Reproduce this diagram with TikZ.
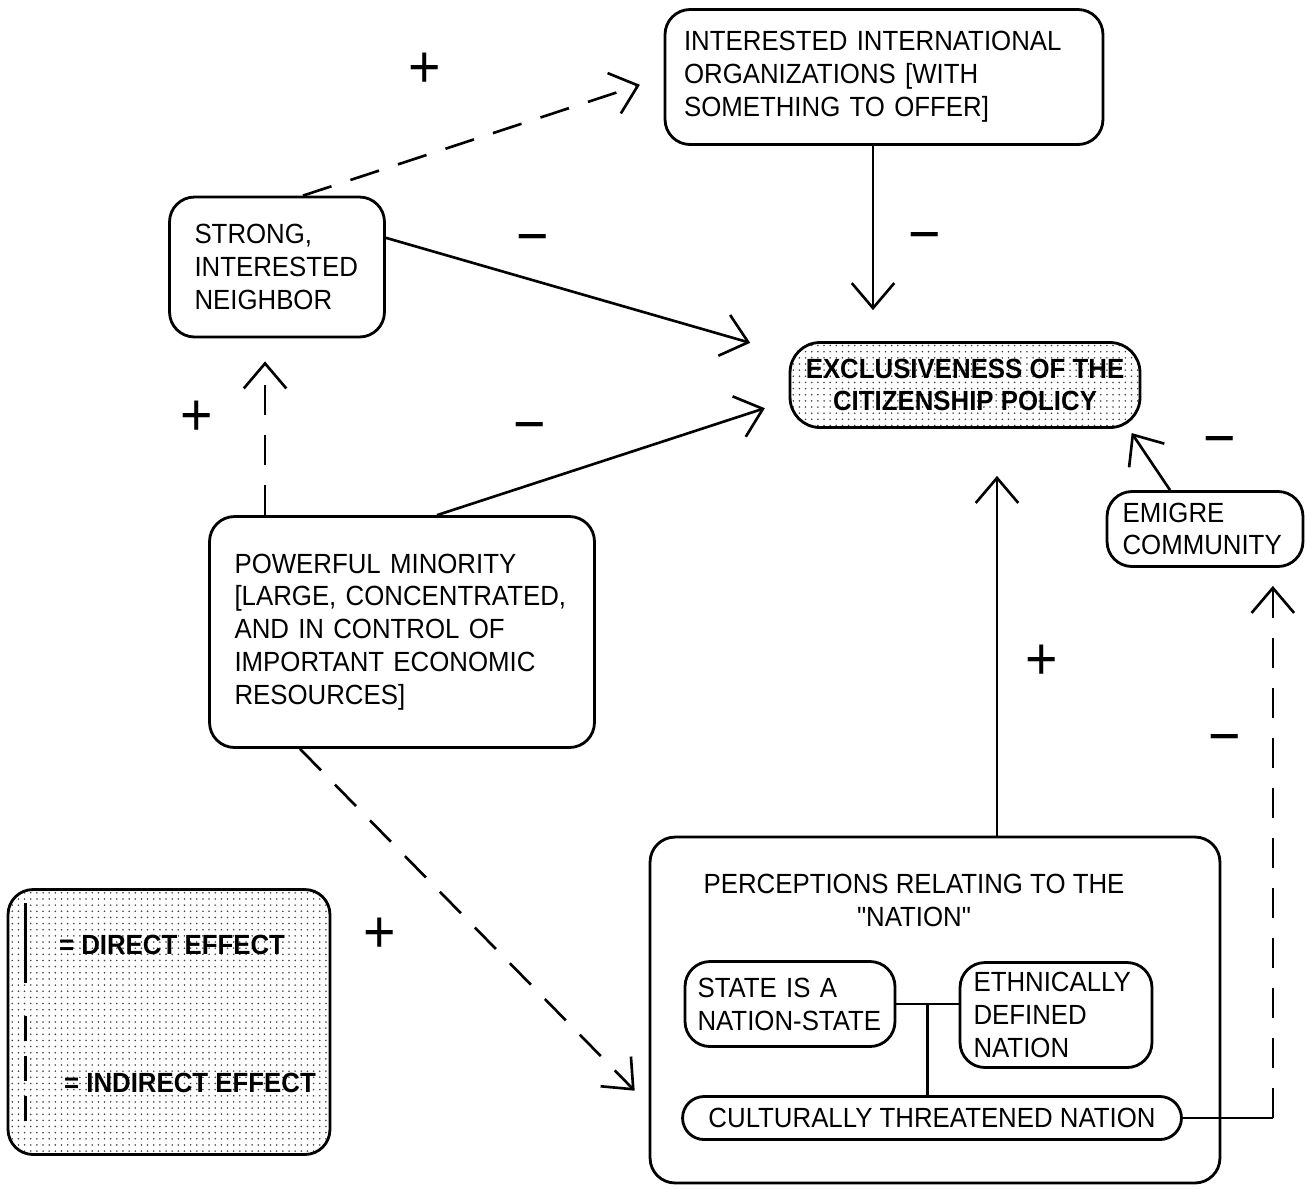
\documentclass[tikz,border=0pt]{standalone}
\usepackage{fontspec}
\setmainfont{Liberation Sans}[FakeStretch=0.93, Ligatures=TeXOff]
\usetikzlibrary{arrows.meta,calc,patterns.meta}

\newcommand{\boxfont}{\fontsize{15.8}{18.7}\selectfont\hyphenpenalty=10000}
\newcommand{\signfont}{\fontsize{34}{34}\selectfont}

\tikzset{
  box/.style={draw, line width=1.6pt, rounded corners=0.5cm, align=left, font=\boxfont},
  hatched/.style={pattern={Dots[distance=3.5pt,radius=0.5pt]}, pattern color=black!75},
  direct/.style={line width=1.5pt, -{Straight Barb[length=0.5cm,width=0.85cm]}},
  indirect/.style={direct, dash pattern=on 0.6cm off 0.4cm},
  sign/.style={font=\signfont, inner sep=0pt},
}

\begin{document}
\begin{tikzpicture}[x=0.02cm,y=-0.02cm]
      \useasboundingbox (0,0) rectangle (1307,1188);
      \node[box, text width=8cm, inner xsep=0.38cm, minimum height=2.7cm] (iio) at (884,77)
        {INTERESTED INTERNATIONAL\\ORGANIZATIONS [WITH\\SOMETHING TO OFFER]};
      \node[box, text width=3.3cm, inner xsep=0.5cm, minimum height=2.8cm] (nbr) at (277,267)
        {STRONG,\\INTERESTED\\NEIGHBOR};
      \node[box, hatched, align=center, minimum width=7cm, minimum height=1.7cm,
        rounded corners=0.6cm, font=\boxfont\bfseries] (excl) at (965,385)
        {EXCLUSIVENESS OF THE\\CITIZENSHIP POLICY};
      \node[box, text width=3.3cm, inner xsep=0.31cm, minimum height=1.5cm] (emi) at (1205,529)
        {EMIGRE\\COMMUNITY};
      \node[box, text width=6.7cm, inner xsep=0.5cm, minimum height=4.62cm] (min) at (402,632)
        {POWERFUL MINORITY\\{[}LARGE, CONCENTRATED,\\AND IN CONTROL OF\\IMPORTANT ECONOMIC\\RESOURCES]};
      \node[box, minimum width=11.4cm, minimum height=6.92cm] (per) at (935,1010) {};
      \node[align=center, font=\boxfont] (pertitle) at (914,900)
        {PERCEPTIONS RELATING TO THE\\"NATION"};
      \node[box, text width=3.7cm, inner xsep=0.25cm, minimum height=1.7cm] (sta) at (790,1004)
        {STATE IS A\\NATION-STATE};
      \node[box, text width=3.3cm, inner xsep=0.27cm, minimum height=2.1cm] (eth) at (1056,1015)
        {ETHNICALLY\\DEFINED\\NATION};
      \node[box, align=center, minimum width=9.98cm, minimum height=0.86cm,
        rounded corners=0.43cm, inner ysep=1pt] (cul) at (932,1118)
        {CULTURALLY THREATENED NATION};
      % legend
      \node[box, hatched, minimum width=6.44cm, minimum height=5.3cm] (leg) at (169,1022) {};
      \node[font=\boxfont\bfseries] (ldir) at (172,945) {= DIRECT EFFECT};
      \node[font=\boxfont\bfseries] (lind) at (190,1083) {= INDIRECT EFFECT};
      \coordinate (ldtop) at ([xshift=0.38cm,yshift=-0.3cm]leg.north west);
      \coordinate (litop) at ([xshift=0.38cm,yshift=2.8cm]leg.south west);
      \draw[line width=1.5pt] (ldtop) -- ++(0,-1.6cm);
      \draw[line width=1.5pt, dash pattern=on 0.5cm off 0.3cm] (litop) -- ++(0,-2.4cm);
      % signs
      \node[sign] (p1) at (425,70) {+};
      \node[sign] (m1) at (533,245) {−};
      \node[sign] (m2) at (925,243) {−};
      \node[sign] (p2) at (197,418) {+};
      \node[sign] (m3) at (530,433) {−};
      \node[sign] (m4) at (1220,447) {−};
      \node[sign] (p3) at (1042,662) {+};
      \node[sign] (m5) at (1225,745) {−};
      \node[sign] (p4) at (380,935) {+};
      % effects
      \coordinate (iioout) at ([xshift=-0.22cm]iio.south);
      \coordinate (minout) at ([xshift=0.7cm]min.north);
      \coordinate (minup) at ([xshift=-2.74cm]min.north);
      \coordinate (mindown) at ([xshift=-2.04cm]min.south);
      \coordinate (perup) at ([xshift=1.24cm]per.north);
      \coordinate (emiup) at ([xshift=-0.7cm]emi.north);
      \coordinate (culbend) at ([xshift=1.8cm]cul.east);
      \draw[indirect, shorten >=0.5cm] (nbr.70) -- (iio.west);
      \draw[direct, shorten >=0.62cm] (iioout) -- (iioout |- excl.north);
      \draw[direct, shorten >=0.8cm] (nbr.15) -- (excl.170);
      \draw[direct, shorten >=0.5cm] (minout) -- (excl.185);
      \draw[indirect, shorten >=0.46cm] (minup) -- (minup |- nbr.south);
      \draw[indirect, shorten >=0.4cm] (mindown) -- ([yshift=-1.9cm]per.west);
      \draw[direct, shorten >=0.94cm] (perup) -- (perup |- excl.south);
      \draw[direct, shorten >=0.1cm] (emiup) -- (excl.-15);
      \draw[line width=1.5pt] (cul.east) -- (culbend);
      \draw[indirect, shorten >=0.36cm] (culbend) -- (culbend |- emi.south);
      % inside the nation box
      \coordinate (junc) at ($(sta.east)!0.5!(sta.east -| eth.west)$);
      \draw[line width=1.5pt] (sta.east) -- (sta.east -| eth.west);
      \draw[line width=1.5pt] (junc) -- (junc |- cul.north);
    \end{tikzpicture}
\end{document}
